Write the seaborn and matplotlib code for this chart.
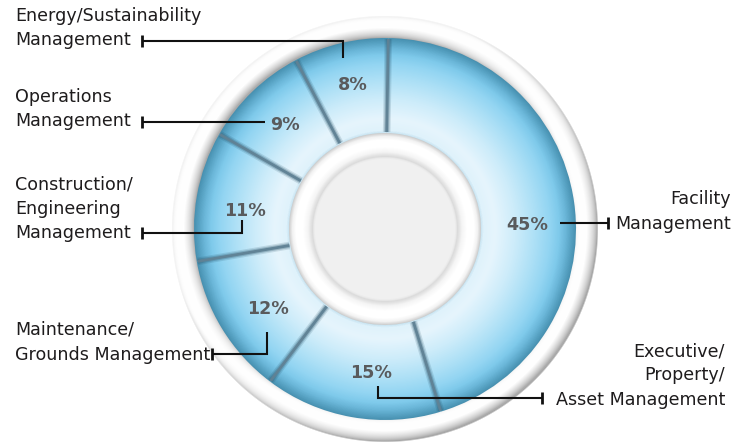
import numpy as np
import matplotlib
matplotlib.use("Agg")
import matplotlib.pyplot as plt
from matplotlib.colors import LinearSegmentedColormap
import seaborn as sns

# ---------------- data ----------------
categories = ["Facility\nManagement",
              "Executive/\nProperty/\nAsset Management",
              "Maintenance/\nGrounds Management",
              "Construction/\nEngineering\nManagement",
              "Operations\nManagement",
              "Energy/Sustainability\nManagement"]
shares = [45, 15, 12, 11, 9, 8]
pct_labels = [f"{v}%" for v in shares]

# ---------------- layout (image pixel coords, y down) ----------------
W, H = 749, 442
CX, CY = 385, 229
R_OUT, R_IN = 191, 96
START = 89

# percent label anchor (center x, baseline y)
pct_pos = [(527, 230.5), (371, 378), (268, 314), (245, 216), (285, 130), (353, 90)]
# category text: anchor x, first baseline y, alignment
cat_pos = [(731, 204.3, "right"), (725, 356, "right"), (15, 335, "left"),
           (15, 189.3, "left"), (15, 101.7, "left"), (15, 20.7, "left")]
LINE_GAP = 24.5
# leader polylines (start at text tick)
leaders = [
    [(608, 222.7), (560, 222.7)],
    [(542, 398.3), (378, 398.3), (378, 386)],
    [(212, 354), (266.7, 354), (266.7, 331.7)],
    [(142, 233.3), (242, 233.3), (242, 220)],
    [(142, 122.3), (265, 122.3)],
    [(142, 41), (343, 41), (343, 58)],
]

sns.set_theme(style="white")
plt.rcParams['font.family'] = ['DejaVu Sans']

fig = plt.figure(figsize=(W / 100, H / 100), dpi=100)
ax = fig.add_axes([0, 0, 1, 1])


def Y(y):
    return H - y


cyd = Y(CY)

# ---------------- grey / white rings (background image) ----------------
EXT = 216
n = 2 * EXT
xc = CX - EXT + np.arange(n) + 0.5
yc = cyd - EXT + np.arange(n) + 0.5
XX, YY = np.meshgrid(xc, yc)
dx, dy = XX - CX, YY - cyd
r = np.hypot(dx, dy)
phi = np.arctan2(dy, dx)

level = np.ones_like(r)
inner_r = [0, 69.5, 71, 72.5, 74.5, 77, 82, 89, 92.5, 95, 97]
inner_l = [0.945, 0.945, 0.92, 0.86, 0.90, 0.96, 1.0, 1.0, 0.95, 0.84, 0.74]
m_in = r <= 97
level[m_in] = np.interp(r[m_in], inner_r, inner_l)

m_out = r >= 189
t = np.clip((r - 201.5) / 11.5, -1, 1)
nr = 0.85 * t
nz = np.sqrt(1 - nr ** 2)
L = np.array([-0.5, 0.55, 0.67])
L = L / np.linalg.norm(L)
shade = nr * np.cos(phi) * L[0] + nr * np.sin(phi) * L[1] + nz * L[2]
lev_out = 0.70 + 0.30 * np.clip(shade / L[2], 0, 1) - 0.08 * np.abs(t) ** 6
level[m_out] = lev_out[m_out]

alpha = np.clip((213.5 - r) / 1.5, 0, 1)
bg = np.dstack([level, level, level, alpha])
ax.imshow(bg, extent=(CX - EXT, CX + EXT, cyd - EXT, cyd + EXT),
          origin="lower", interpolation="bilinear", zorder=1)

# ---------------- blue donut slices ----------------
wedges, _ = ax.pie(shares, radius=R_OUT, center=(CX, cyd), startangle=START,
                   counterclock=False,
                   wedgeprops=dict(width=R_OUT - R_IN, facecolor="none",
                                   edgecolor="none", linewidth=0))

blue_stops = [(96, "#c9e5f2"), (98.5, "#dff2fb"), (110, "#e6f5fd"),
              (130, "#cdecfa"), (150, "#ade0f6"), (165, "#93d5f2"),
              (174, "#7fcaeb"), (181, "#6ab6d8"), (186, "#58a3c4"),
              (191, "#4790b0")]
bs_r = np.array([s[0] for s in blue_stops])
pos = (bs_r - bs_r[0]) / (bs_r[-1] - bs_r[0])
cmap = LinearSegmentedColormap.from_list(
    "ring", list(zip(pos, [s[1] for s in blue_stops])))
u = np.clip((r - bs_r[0]) / (bs_r[-1] - bs_r[0]), 0, 1)
blue_img = cmap(u)

for w in wedges:
    w.set_zorder(2)
    im = ax.imshow(blue_img, extent=(CX - EXT, CX + EXT, cyd - EXT, cyd + EXT),
                   origin="lower", interpolation="bilinear", zorder=2)
    im.set_clip_path(w)

# separators from cumulative shares
cum = np.concatenate([[0], np.cumsum(shares)])
angles = np.deg2rad(START - 360 * cum[:-1] / cum[-1])
for a in angles:
    rr = np.array([R_IN + 1, R_OUT - 1])
    xs = CX + rr * np.cos(a)
    ys = cyd + rr * np.sin(a)
    ax.plot(xs, ys, color="#1f4a60", lw=5.5, alpha=0.15,
            solid_capstyle="butt", zorder=3)
    ax.plot(xs, ys, color="#355f75", lw=3.6, alpha=0.30,
            solid_capstyle="butt", zorder=3)
    ax.plot(xs, ys, color="#5f8194", lw=2.0, alpha=0.95,
            solid_capstyle="butt", zorder=3)

# ---------------- labels ----------------
for lab, (px, py) in zip(pct_labels, pct_pos):
    ax.text(px, Y(py), lab, ha="center", va="baseline", fontsize=12.6,
            fontweight="bold", color="#595a5c", zorder=5)

for cat, (tx, ty, ha) in zip(categories, cat_pos):
    for i, line in enumerate(cat.split("\n")):
        ax.text(tx, Y(ty + i * LINE_GAP), line, ha=ha, va="baseline",
                fontsize=12.6, color="#1e1c1d", zorder=5)

for pts in leaders:
    xs = [p[0] for p in pts]
    ys = [Y(p[1]) for p in pts]
    ax.plot(xs, ys, color="#111111", lw=1.5, solid_capstyle="butt",
            solid_joinstyle="miter", zorder=6)
    x0, y0 = pts[0]
    ax.plot([x0, x0], [Y(y0 - 6), Y(y0 + 6)], color="#111111", lw=2.0,
            solid_capstyle="butt", zorder=6)

ax.set_xlim(0, W)
ax.set_ylim(0, H)
ax.set_aspect("equal")
ax.axis("off")

fig.savefig("out.png", dpi=100, facecolor="white")
